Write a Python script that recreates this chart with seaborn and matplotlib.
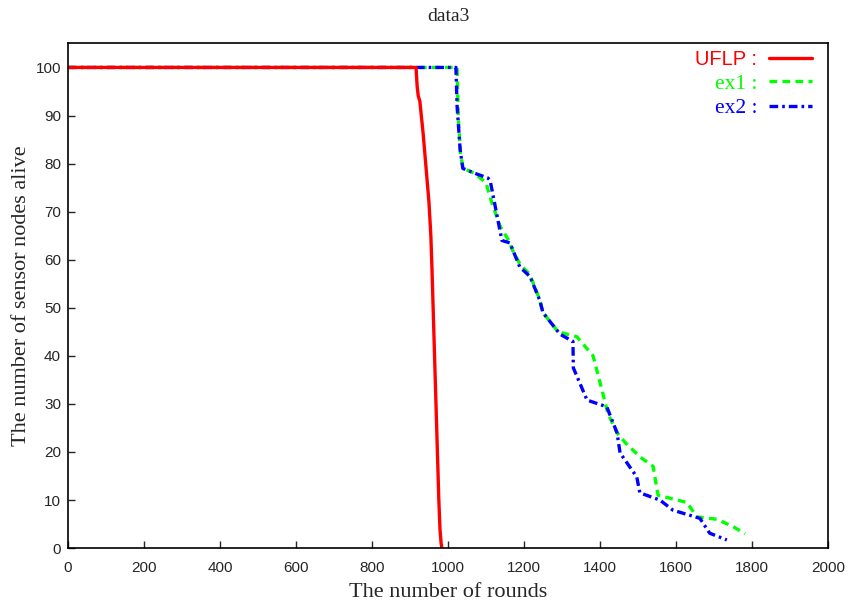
"""
Network lifetime comparison (data3): sensor nodes alive vs. rounds
for UFLP, ex1 and ex2.
"""

import pandas as pd
import matplotlib
matplotlib.use("Agg")
import matplotlib.pyplot as plt
import seaborn as sns

# values
uflp_rounds = [0, 916, 919, 922, 926, 935, 950, 955, 958, 961, 964, 967,
               970, 973, 976, 979, 982, 984]
uflp_alive = [100, 100, 96, 94, 93, 86, 72, 65, 58, 50, 42, 34,
              26, 18, 10, 4, 1, 0]

ex1_rounds = [0, 1024, 1027, 1033, 1040, 1070, 1100, 1115, 1137, 1160, 1170,
              1190, 1215, 1240, 1250, 1290, 1339, 1382, 1405, 1421, 1445,
              1466, 1505, 1540, 1553, 1629, 1655, 1708, 1750, 1782]
ex1_alive = [100, 100, 90, 82, 79, 78, 76, 72, 67, 64, 62, 59, 57, 52, 49,
             45, 44, 40, 33, 28, 24, 22, 19, 17, 11, 9.5, 6.5, 6, 4.5, 3]

ex2_rounds = [0, 1021, 1024, 1032, 1039, 1070, 1105, 1111, 1142, 1163, 1189,
              1216, 1242, 1250, 1295, 1329, 1330, 1366, 1418, 1445, 1453,
              1497, 1505, 1558, 1592, 1663, 1689, 1734]
ex2_alive = [100, 100, 92, 83, 79, 78, 77, 76.5, 64, 63.5, 58.5, 56.5, 51.5,
             49, 44.5, 43, 37.5, 30.8, 29.4, 24, 19.8, 14.8, 11.5, 10, 7.9,
             6.2, 3.1, 1.7]

df = pd.concat([
    pd.DataFrame({"rounds": uflp_rounds, "alive": uflp_alive, "method": "UFLP :"}),
    pd.DataFrame({"rounds": ex1_rounds, "alive": ex1_alive, "method": "ex1 :"}),
    pd.DataFrame({"rounds": ex2_rounds, "alive": ex2_alive, "method": "ex2 :"}),
])

sns.set_style("white")

fig = plt.figure(figsize=(8.5, 6.03), dpi=100)
ax = fig.add_axes([0.08, 0.091, 0.894, 0.837])

palette = {"UFLP :": "#ff0000", "ex1 :": "#00ff00", "ex2 :": "#0000ff"}

# draw ex1 and ex2 first so the red line sits on top of the flat part
for method in ["ex1 :", "ex2 :", "UFLP :"]:
    sub = df[df["method"] == method]
    sns.lineplot(
        data=sub, x="rounds", y="alive", ax=ax,
        color=palette[method], label=method,
        estimator=None, sort=False, linewidth=2.4,
    )

lines = {line.get_label(): line for line in ax.get_lines()}
lines["ex1 :"].set_dashes([2.3, 1.6])
lines["ex2 :"].set_dashes([2.6, 1.2, 0.8, 1.2])

ax.set_xlim(0, 2000)
ax.set_ylim(0, 105)
ax.set_xticks(range(0, 2001, 200))
ax.set_yticks(range(0, 101, 10))
ax.tick_params(direction="in", length=5, width=1, labelsize=11,
               top=False, right=False, bottom=True, left=True)
ax.tick_params(axis="x", pad=9)
ax.tick_params(axis="y", pad=5)
for label in ax.get_xticklabels() + ax.get_yticklabels():
    label.set_family("Liberation Sans")

for spine in ax.spines.values():
    spine.set_color("black")
    spine.set_linewidth(1.2)

ax.set_xlabel("The number of rounds", family="Liberation Serif",
              fontsize=16, labelpad=6)
ax.set_ylabel("The number of sensor nodes alive", family="Liberation Serif",
              fontsize=16, labelpad=3)
ax.set_title("data3", family="Liberation Serif", fontsize=14, pad=16)

handles = [lines["UFLP :"], lines["ex1 :"], lines["ex2 :"]]
leg = ax.legend(handles=handles, labels=["UFLP :", "ex1 :", "ex2 :"],
                loc="upper right", bbox_to_anchor=(0.996, 1.012),
                frameon=False, markerfirst=False,
                handlelength=2.0, handletextpad=0.55, labelspacing=0.2,
                borderaxespad=0.2, fontsize=15.5)
for text, handle in zip(leg.get_texts(), handles):
    text.set_color(handle.get_color())
    text.set_ha("right")
leg.get_texts()[0].set_family("Liberation Sans")
leg.get_texts()[0].set_fontsize(14.5)
leg.get_texts()[1].set_family("Liberation Serif")
leg.get_texts()[2].set_family("Liberation Serif")
leg._legend_box.align = "right"

fig.savefig("out.png", dpi=100)
plt.close(fig)
